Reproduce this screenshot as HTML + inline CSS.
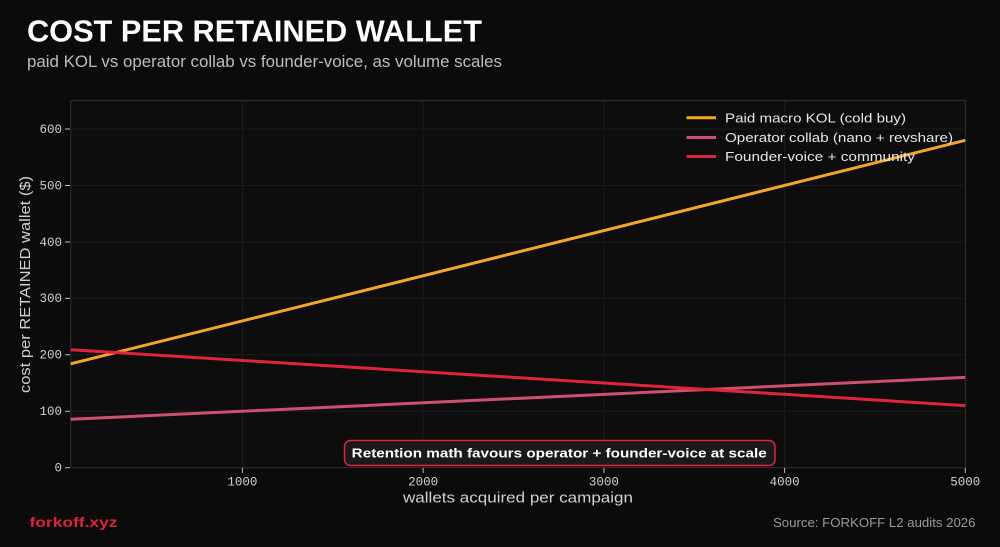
<!DOCTYPE html>
<html>
<head>
<meta charset="utf-8">
<style>
html,body{margin:0;padding:0;background:#0b0b0b;}
body{width:1000px;height:547px;overflow:hidden;}
svg{display:block;}
</style>
</head>
<body>
<svg width="1000" height="547" viewBox="0 0 1000 547" xmlns="http://www.w3.org/2000/svg">
  <rect x="0" y="0" width="1000" height="547" fill="#0b0b0b"/>
  <!-- title -->
  <text x="27" y="41.5" font-family="Liberation Sans, sans-serif" font-weight="bold" font-size="30.5" fill="#ffffff" textLength="455" lengthAdjust="spacingAndGlyphs">COST PER RETAINED WALLET</text>
  <text x="27" y="67" font-family="Liberation Sans, sans-serif" font-size="17" fill="#bdbdbd" textLength="475" lengthAdjust="spacingAndGlyphs">paid KOL vs operator collab vs founder-voice, as volume scales</text>

  <!-- plot area -->
  <rect x="70.7" y="100.5" width="894.8" height="367.2" fill="#0d0d0d"/>
  <!-- grid -->
  <g stroke="#1c1c1c" stroke-width="1">
    <line x1="70.7" y1="129" x2="965.5" y2="129"/>
    <line x1="70.7" y1="185.5" x2="965.5" y2="185.5"/>
    <line x1="70.7" y1="242" x2="965.5" y2="242"/>
    <line x1="70.7" y1="298.4" x2="965.5" y2="298.4"/>
    <line x1="70.7" y1="354.8" x2="965.5" y2="354.8"/>
    <line x1="70.7" y1="411.3" x2="965.5" y2="411.3"/>
    <line x1="242.4" y1="100.5" x2="242.4" y2="467.7"/>
    <line x1="423.1" y1="100.5" x2="423.1" y2="467.7"/>
    <line x1="603.9" y1="100.5" x2="603.9" y2="467.7"/>
    <line x1="784.6" y1="100.5" x2="784.6" y2="467.7"/>
  </g>
  <!-- frame -->
  <rect x="70.7" y="100.5" width="894.8" height="367.2" fill="none" stroke="#2c2c2c" stroke-width="1.2"/>

  <!-- ticks -->
  <g stroke="#bfbfbf" stroke-width="1">
    <line x1="65" y1="129" x2="70" y2="129"/>
    <line x1="65" y1="185.5" x2="70" y2="185.5"/>
    <line x1="65" y1="242" x2="70" y2="242"/>
    <line x1="65" y1="298.4" x2="70" y2="298.4"/>
    <line x1="65" y1="354.8" x2="70" y2="354.8"/>
    <line x1="65" y1="411.3" x2="70" y2="411.3"/>
    <line x1="65" y1="467.7" x2="70" y2="467.7"/>
    <line x1="242.4" y1="468" x2="242.4" y2="473"/>
    <line x1="423.1" y1="468" x2="423.1" y2="473"/>
    <line x1="603.9" y1="468" x2="603.9" y2="473"/>
    <line x1="784.6" y1="468" x2="784.6" y2="473"/>
    <line x1="965.3" y1="468" x2="965.3" y2="473"/>
  </g>
  <g font-family="Liberation Mono, monospace" font-size="12.5" fill="#d0d0d0" text-anchor="end">
    <text x="62" y="132.8">600</text>
    <text x="62" y="189.3">500</text>
    <text x="62" y="245.8">400</text>
    <text x="62" y="302.2">300</text>
    <text x="62" y="358.6">200</text>
    <text x="62" y="415.1">100</text>
    <text x="62" y="471.5">0</text>
  </g>
  <g font-family="Liberation Mono, monospace" font-size="12.5" fill="#d0d0d0" text-anchor="middle">
    <text x="242.4" y="485.5">1000</text>
    <text x="423.1" y="485.5">2000</text>
    <text x="603.9" y="485.5">3000</text>
    <text x="784.6" y="485.5">4000</text>
    <text x="965.3" y="485.5">5000</text>
  </g>

  <!-- axis labels -->
  <text x="403" y="502.5" font-family="Liberation Sans, sans-serif" font-size="15" fill="#d0d0d0" textLength="230" lengthAdjust="spacingAndGlyphs">wallets acquired per campaign</text>
  <text transform="translate(30,393) rotate(-90)" x="0" y="0" font-family="Liberation Sans, sans-serif" font-size="15" fill="#d0d0d0" textLength="217" lengthAdjust="spacingAndGlyphs">cost per RETAINED wallet ($)</text>

  <!-- series -->
  <line x1="70.7" y1="363.8" x2="965.3" y2="140.3" stroke="#f5a524" stroke-width="3"/>
  <line x1="70.7" y1="419.3" x2="965.3" y2="377.4" stroke="#cf4f6e" stroke-width="3"/>
  <line x1="70.7" y1="349.7" x2="965.3" y2="405.6" stroke="#e0243c" stroke-width="3"/>

  <!-- legend -->
  <line x1="686.5" y1="117.7" x2="716" y2="117.7" stroke="#f5a524" stroke-width="3"/>
  <line x1="686.5" y1="137.5" x2="716" y2="137.5" stroke="#cf4f6e" stroke-width="3"/>
  <line x1="686.5" y1="156.5" x2="716" y2="156.5" stroke="#e0243c" stroke-width="3"/>
  <g font-family="Liberation Sans, sans-serif" font-size="13" fill="#e6e6e6">
    <text x="725" y="122.3" textLength="181" lengthAdjust="spacingAndGlyphs">Paid macro KOL (cold buy)</text>
    <text x="725" y="142" textLength="228" lengthAdjust="spacingAndGlyphs">Operator collab (nano + revshare)</text>
    <text x="725" y="161" textLength="190" lengthAdjust="spacingAndGlyphs">Founder-voice + community</text>
  </g>

  <!-- annotation -->
  <rect x="344.5" y="440.5" width="430.5" height="25" rx="6" ry="6" fill="#1a1a1a" stroke="#e0243c" stroke-width="1.5"/>
  <text x="351.7" y="457.3" font-family="Liberation Sans, sans-serif" font-weight="bold" font-size="13" fill="#ffffff" textLength="415" lengthAdjust="spacingAndGlyphs">Retention math favours operator + founder-voice at scale</text>

  <!-- footer -->
  <text x="29.5" y="527" font-family="Liberation Sans, sans-serif" font-weight="bold" font-size="14" fill="#e0243c" textLength="88" lengthAdjust="spacingAndGlyphs">forkoff.xyz</text>
  <text x="773" y="527" font-family="Liberation Sans, sans-serif" font-size="12.5" fill="#9a9a9a" textLength="202.5" lengthAdjust="spacingAndGlyphs">Source: FORKOFF L2 audits 2026</text>
</svg>
</body>
</html>
